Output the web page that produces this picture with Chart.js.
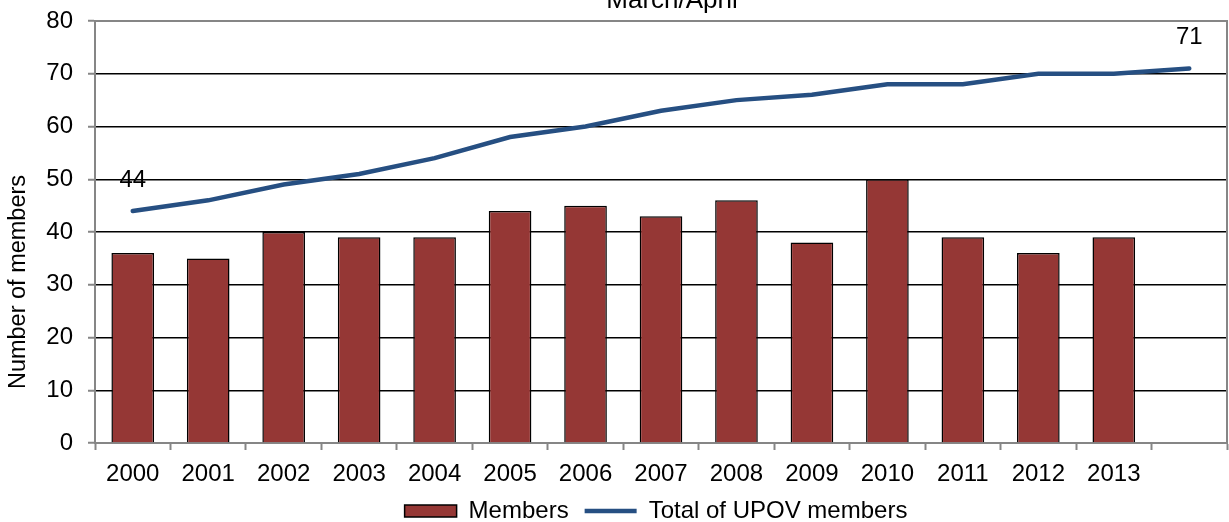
<!DOCTYPE html>
<html>
<head>
<meta charset="utf-8">
<script src="https://cdn.jsdelivr.net/npm/chart.js@4"></script>
<style>
    html, body { margin: 0; padding: 0; background: #fff; }
    #wrap { width: 1229px; height: 522px; }
</style>
</head>
<body>
<div id="wrap"><canvas id="chart-members" width="1229" height="522"></canvas></div>
<script>
const years = ['2000', '2001', '2002', '2003', '2004', '2005', '2006', '2007', '2008', '2009', '2010', '2011', '2012', '2013', ''];
const members = [36, 35, 40, 39, 39, 44, 45, 43, 46, 38, 50, 39, 36, 39, null];
const totalMembers = [44, 46, 49, 51, 54, 58, 60, 63, 65, 66, 68, 68, 70, 70, 71];
const yTicks = [0, 10, 20, 30, 40, 50, 60, 70, 80];
const labelledPoints = [0, 14];

const FONT = "'Liberation Sans', Arial, sans-serif";
const AXIS_GREY = '#868686';
const BAR_RED = '#953735';
const LINE_BLUE = '#264F82';

// chart title sits mostly above the canvas, only the bottom of it shows
const titlePlugin = {
    id: 'cutTitle',
    afterDraw(chart) {
        const ctx = chart.ctx;
        ctx.save();
        ctx.font = '26px ' + FONT;
        ctx.fillStyle = '#000';
        ctx.textAlign = 'center';
        ctx.textBaseline = 'alphabetic';
        ctx.fillText('March/April', 672, 8);
        ctx.restore();
    }
};

const yTitlePlugin = {
    id: 'yTitle',
    afterDraw(chart) {
        const ctx = chart.ctx;
        ctx.save();
        ctx.translate(19, 282);
        ctx.rotate(-Math.PI / 2);
        ctx.font = '23.5px ' + FONT;
        ctx.fillStyle = '#000';
        ctx.textAlign = 'center';
        ctx.textBaseline = 'middle';
        ctx.fillText('Number of members', 0, 0);
        ctx.restore();
    }
};

const plotBorderPlugin = {
    id: 'plotBorder',
    beforeDatasetsDraw(chart) {
        const { ctx, chartArea } = chart;
        ctx.save();
        ctx.strokeStyle = AXIS_GREY;
        ctx.lineWidth = 2;
        ctx.beginPath();
        ctx.moveTo(chartArea.left, chartArea.top);
        ctx.lineTo(chartArea.right, chartArea.top);
        ctx.lineTo(chartArea.right, chartArea.bottom);
        ctx.stroke();
        ctx.restore();
    }
};

const pointLabelPlugin = {
    id: 'pointLabels',
    afterDatasetsDraw(chart) {
        const ctx = chart.ctx;
        const meta = chart.getDatasetMeta(1);
        ctx.save();
        ctx.font = '24px ' + FONT;
        ctx.fillStyle = '#000';
        ctx.textAlign = 'center';
        ctx.textBaseline = 'middle';
        labelledPoints.forEach(i => {
            const pt = meta.data[i];
            ctx.fillText(String(totalMembers[i]), pt.x, pt.y - 31);
        });
        ctx.restore();
    }
};

// legend in the original sits a bit right of the canvas centre
const legendShiftPlugin = {
    id: 'legendShift',
    afterLayout(chart) {
        if (chart.legend) {
            chart.legend.left += 40;
            chart.legend.right += 40;
        }
    }
};

const ctx = document.getElementById('chart-members').getContext('2d');
new Chart(ctx, {
    type: 'bar',
    data: {
        labels: years,
        datasets: [{
            label: 'Members',
            data: members,
            backgroundColor: BAR_RED,
            borderColor: '#000',
            borderWidth: 1.5,
            barPercentage: 0.565,
            categoryPercentage: 1,
            pointStyle: 'rect'
        }, {
            type: 'line',
            label: 'Total of UPOV members',
            data: totalMembers,
            borderColor: LINE_BLUE,
            backgroundColor: LINE_BLUE,
            borderWidth: 4.5,
            borderCapStyle: 'round',
            pointRadius: 0,
            pointStyle: 'line',
            tension: 0,
            fill: false
        }]
    },
    options: {
        responsive: false,
        animation: false,
        events: [],
        layout: { padding: { left: 5, right: 2, top: 21, bottom: -11 } },
        plugins: {
            title: { display: false },
            tooltip: { enabled: false },
            legend: {
                position: 'bottom',
                labels: {
                    usePointStyle: true,
                    pointStyleWidth: 52,
                    boxHeight: 12,
                    padding: 16,
                    color: '#000',
                    font: { family: FONT, size: 24 }
                }
            }
        },
        scales: {
            x: {
                offset: true,
                grid: {
                    offset: true,
                    drawOnChartArea: false,
                    tickLength: 7,
                    tickColor: AXIS_GREY,
                    tickWidth: 2
                },
                border: { color: AXIS_GREY, width: 2 },
                ticks: {
                    color: '#000',
                    padding: 10,
                    maxRotation: 0,
                    autoSkip: false,
                    font: { family: FONT, size: 24 }
                },
                afterFit(scale) { scale.height = 40; }
            },
            y: {
                min: yTicks[0],
                max: yTicks[yTicks.length - 1],
                afterBuildTicks(scale) { scale.ticks = yTicks.map(v => ({ value: v })); },
                grid: {
                    color: '#000',
                    lineWidth: 1.5,
                    tickLength: 7,
                    tickColor: AXIS_GREY,
                    tickWidth: 2
                },
                border: { color: AXIS_GREY, width: 2 },
                ticks: {
                    color: '#000',
                    padding: 15,
                    font: { family: FONT, size: 24 }
                },
                afterFit(scale) { scale.width = 90; scale.paddingTop = 0; }
            }
        }
    },
    plugins: [titlePlugin, yTitlePlugin, plotBorderPlugin, pointLabelPlugin, legendShiftPlugin]
});
</script>
</body>
</html>
